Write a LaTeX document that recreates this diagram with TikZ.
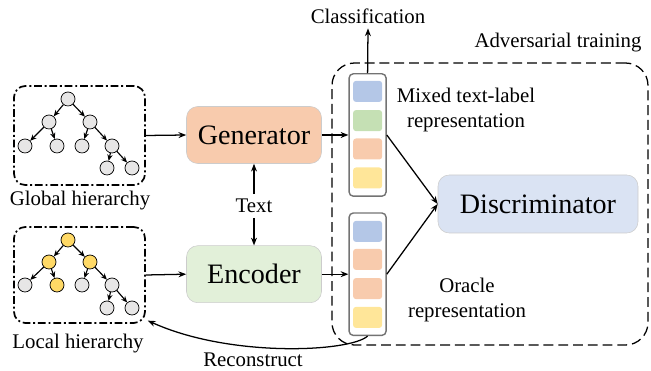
\documentclass[tikz,border=0pt]{standalone}
\usepackage{fontspec}
\setmainfont{Liberation Serif}
\usepackage{tikz}
\usetikzlibrary{arrows.meta}
\usepackage{xcolor}

\definecolor{genfill}{HTML}{F8CBAD}
\definecolor{encfill}{HTML}{E2F0D9}
\definecolor{disfill}{HTML}{DAE3F3}
\definecolor{cellblue}{HTML}{B4C7E7}
\definecolor{cellgreen}{HTML}{C5E0B4}
\definecolor{cellred}{HTML}{F8CBAD}
\definecolor{cellyellow}{HTML}{FFE699}
\definecolor{treegray}{HTML}{E7E6E6}
\definecolor{treeyellow}{HTML}{FFD966}

\begin{document}
\begin{tikzpicture}[
        >={Stealth[length=5.5pt, width=4.2pt]},
        hbox/.style={draw, line width=1.2pt, rounded corners=8pt,
                     dash pattern=on 5.5pt off 2pt on 1.4pt off 2pt,
                     minimum width=3.275cm},
        tnode/.style={circle, draw, fill=treegray, minimum size=0.35cm,
                      inner sep=0pt, line width=0.5pt},
        ynode/.style={tnode, fill=treeyellow},
        tarr/.style={-{Stealth[length=4.5pt, width=3.8pt]}, line width=0.8pt},
        module/.style={draw=black!20, rounded corners=8pt,
                       minimum width=3.375cm, minimum height=1.425cm,
                       font=\fontsize{20}{24}\selectfont},
        vec/.style={draw=black!55, line width=1pt, rounded corners=3pt,
                    minimum width=0.925cm, minimum height=3.06cm},
        cell/.style={rounded corners=2pt, minimum width=0.725cm,
                     minimum height=0.525cm, inner sep=0pt},
        lbl/.style={font=\fontsize{14.8}{17.8}\selectfont, align=center},
        arr/.style={->, line width=0.9pt}
      ]
        \useasboundingbox (0,0) rectangle (16.275,9.275);

        % hierarchies
        \node[hbox, minimum height=2.475cm] (gbox) at (1.9875,5.8875) {};
        \node[lbl] (glabel) at (2.0,4.25) {Global hierarchy};
        \node[tnode] (g0) at (1.7,6.8) {};
        \node[tnode] (ga) at (1.225,6.225) {};
        \node[tnode] (gb) at (2.25,6.225) {};
        \node[tnode] (gc) at (0.625,5.625) {};
        \node[tnode] (gd) at (1.425,5.625) {};
        \node[tnode] (ge) at (2.05,5.625) {};
        \node[tnode] (gf) at (2.8,5.625) {};
        \node[tnode] (gg) at (2.675,5.075) {};
        \node[tnode] (gh) at (3.3,5.075) {};
        \draw[tarr] (g0) -- (ga);
        \draw[tarr] (g0) -- (gb);
        \draw[tarr] (ga) -- (gc);
        \draw[tarr] (ga) -- (gd);
        \draw[tarr] (gb) -- (ge);
        \draw[tarr] (gb) -- (gf);
        \draw[tarr] (gf) -- (gg);
        \draw[tarr] (gf) -- (gh);

        \node[hbox, minimum height=2.4cm] (lbox) at (1.9875,2.4) {};
        \node[lbl] (llabel) at (1.95,0.68) {Local hierarchy};
        \node[ynode] (l0) at (1.7,3.275) {};
        \node[ynode] (la) at (1.225,2.725) {};
        \node[ynode] (lb) at (2.25,2.725) {};
        \node[tnode] (lc) at (0.625,2.15) {};
        \node[ynode] (ld) at (1.425,2.15) {};
        \node[tnode] (le) at (2.05,2.15) {};
        \node[tnode] (lf) at (2.8,2.15) {};
        \node[tnode] (lg) at (2.675,1.575) {};
        \node[tnode] (lh) at (3.3,1.575) {};
        \draw[tarr] (l0) -- (la);
        \draw[tarr] (l0) -- (lb);
        \draw[tarr] (la) -- (lc);
        \draw[tarr] (la) -- (ld);
        \draw[tarr] (lb) -- (le);
        \draw[tarr] (lb) -- (lf);
        \draw[tarr] (lf) -- (lg);
        \draw[tarr] (lf) -- (lh);

        % generator / encoder
        \node[module, fill=genfill] (gen) at (6.35,5.9) {Generator};
        \node[module, fill=encfill] (enc) at (6.35,2.42) {Encoder};
        \node[lbl] (txt) at (6.35,4.125) {Text};

        % adversarial training
        \node[draw, line width=0.9pt, rounded corners=16pt,
              dash pattern=on 7pt off 3.5pt,
              minimum width=7.9cm, minimum height=7.05cm] (adv) at (12.25,4.175) {};
        \node[lbl] (advlabel) at (13.95,8.2) {Adversarial training};

        \node[vec] (mixed) at (9.19,5.9) {};
        \node[cell, fill=cellblue]   (m1) at (9.19,6.99) {};
        \node[cell, fill=cellgreen]  (m2) at (9.19,6.26) {};
        \node[cell, fill=cellred]    (m3) at (9.19,5.55) {};
        \node[cell, fill=cellyellow] (m4) at (9.19,4.825) {};
        \node[lbl] (mixedlabel) at (11.65,6.525) {Mixed text-label\\representation};

        \node[vec] (oracle) at (9.19,2.42) {};
        \node[cell, fill=cellblue]   (o1) at (9.19,3.49) {};
        \node[cell, fill=cellred]    (o2) at (9.19,2.79) {};
        \node[cell, fill=cellred]    (o3) at (9.19,2.06) {};
        \node[cell, fill=cellyellow] (o4) at (9.19,1.34) {};
        \node[lbl] (oraclelabel) at (11.675,1.775) {Oracle\\representation};

        \node[module, fill=disfill, minimum width=5cm, minimum height=1.45cm]
              (dis) at (13.45,4.175) {Discriminator};

        \node[lbl] (cls) at (9.2,8.875) {Classification};
        \node[lbl, anchor=base] (rec) at (6.325,0.12) {Reconstruct};

        \draw[arr] (gbox.east) -- (gen.west);
        \draw[arr] (lbox.east) -- (enc.west);
        \draw[arr] (txt) -- (gen);
        \draw[arr] (txt) -- (enc);
        \draw[arr] (gen.east) -- (mixed.west);
        \draw[arr] (enc.east) -- (oracle.west);
        \draw[arr] (mixed.north) -- (cls.south);
        \draw[arr] (mixed.east) -- (dis.west);
        \draw[arr] (oracle.east) -- (dis.west);
        \draw[arr] (oracle.south) .. controls (8.75,0.475) and (5.75,0.325)
              .. ([shift={(0.05,0.08)}]lbox.south east);
      \end{tikzpicture}
\end{document}
